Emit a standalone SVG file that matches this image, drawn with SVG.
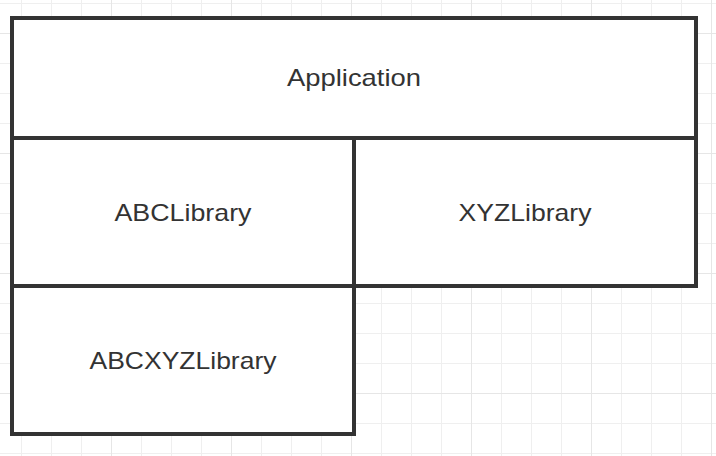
<svg xmlns="http://www.w3.org/2000/svg" width="716" height="456" viewBox="0 0 716 456">
  <style>
    .box { fill: #ffffff; stroke: #333333; stroke-width: 4; }
    .lbl { font-family: "Liberation Sans", Arial, sans-serif; font-size: 24px; fill: #333333; text-anchor: middle; }
  </style>
  <defs>
    <pattern id="minor" x="21" y="3" width="30" height="30" patternUnits="userSpaceOnUse">
      <path d="M0 0 V30 M0 0 H30" fill="none" stroke="#efefef" stroke-width="2"/>
    </pattern>
    <pattern id="major" x="111" y="33" width="120" height="120" patternUnits="userSpaceOnUse">
      <path d="M0 0 V120 M0 0 H120" fill="none" stroke="#e6e6e6" stroke-width="2"/>
    </pattern>
  </defs>
  <rect width="716" height="456" fill="#ffffff"/>
  <rect width="716" height="456" fill="url(#minor)"/>
  <rect width="716" height="456" fill="url(#major)"/>

  <g id="application">
    <rect class="box" x="12" y="18" width="684" height="120"/>
    <text class="lbl" x="354" y="86" textLength="134" lengthAdjust="spacingAndGlyphs">Application</text>
  </g>
  <g id="abclibrary">
    <rect class="box" x="12" y="138" width="342" height="148"/>
    <text class="lbl" x="183" y="221" textLength="137" lengthAdjust="spacingAndGlyphs">ABCLibrary</text>
  </g>
  <g id="xyzlibrary">
    <rect class="box" x="354" y="138" width="342" height="148"/>
    <text class="lbl" x="525" y="221" textLength="133" lengthAdjust="spacingAndGlyphs">XYZLibrary</text>
  </g>
  <g id="abcxyzlibrary">
    <rect class="box" x="12" y="286" width="342" height="148"/>
    <text class="lbl" x="183" y="369" textLength="187" lengthAdjust="spacingAndGlyphs">ABCXYZLibrary</text>
  </g>
  <g id="connectors"></g>
</svg>
